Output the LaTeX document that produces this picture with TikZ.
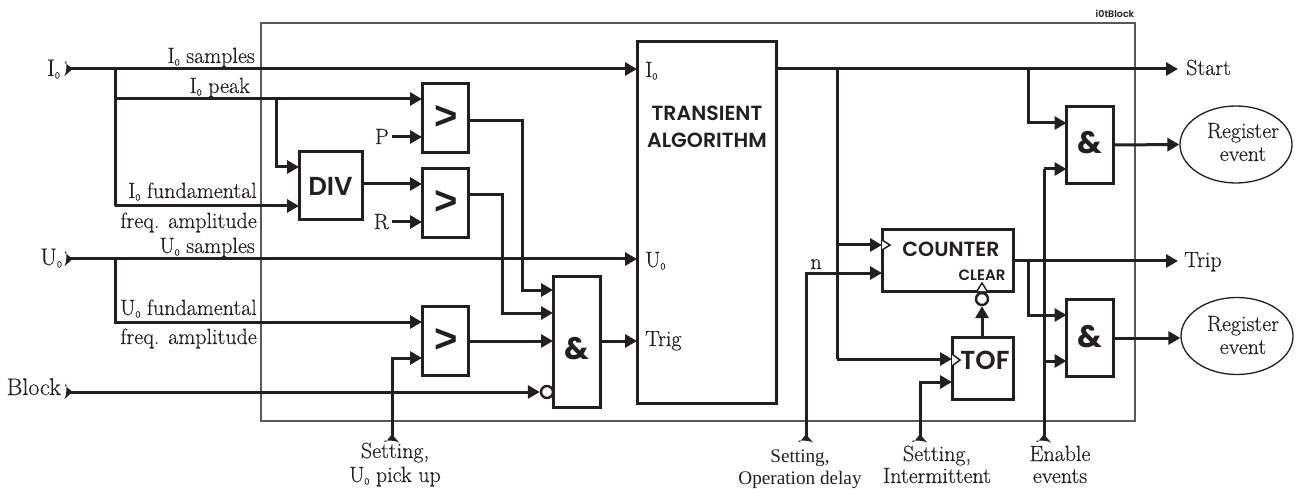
\documentclass[tikz,border=0pt]{standalone}
\usepackage{fontspec}
\usetikzlibrary{arrows.meta,shapes.geometric}
\newfontfamily\blockfont{Poppins}[BoldFont={Poppins SemiBold}]
\newfontfamily\heavyfont{Poppins Bold}
\newfontfamily\gtfont{Liberation Sans}
\newfontfamily\timesfont{Liberation Serif}
\newfontfamily\labfont{Latin Modern Roman}[RawFeature={embolden=0.35}]
\newcommand{\zs}{\raisebox{-2.5pt}{\fontsize{9.5}{9.5}\selectfont 0}}
\definecolor{ink}{HTML}{231F20}
\tikzset{
  x=1pt,y=-1pt,
  wire/.style={draw=ink,line width=3pt,miter limit=10},
  arr/.style={wire,-{Triangle[length=12pt,width=13pt]}},
  blk/.style={draw=ink,line width=3pt,fill=white,inner sep=0pt,outer sep=0pt,minimum width=#1},
  frame/.style={draw=ink!75,line width=1.5pt},
  lab/.style={inner sep=0pt,text=ink,font=\labfont\fontsize{22}{25}\selectfont},
  labr/.style={lab,anchor=base east},
  labl/.style={lab,anchor=base west},
  labc/.style={lab,anchor=base},
  labin/.style={labr,font=\labfont\fontsize{24}{27}\selectfont},
  labt/.style={inner sep=0pt,anchor=base,text=ink,font=\timesfont\fontsize{19.2}{22}\selectfont},
  big/.style={inner sep=0pt,text=ink,font=\blockfont\bfseries\fontsize{#1}{#1}\selectfont},
  sym/.style={inner sep=0pt,text=ink,font=\heavyfont\fontsize{#1}{#1}\selectfont},
  gtsym/.style={inner sep=0pt,text=ink,font=\gtfont\bfseries\fontsize{40}{40}\selectfont},
  term/.style={fill=ink,draw=none},
  bub/.style={circle,draw=ink,line width=2.4pt,fill=white,inner sep=0pt,minimum size=#1},
  clk/.style={draw=ink,line width=1.5pt,fill=white},
  evt/.style={draw=ink,line width=1.3pt,ellipse,minimum width=112pt,minimum height=77pt,inner sep=0pt}
}
\newcommand{\termr}[1]{\fill[term] (#1) ++(-5,-6) .. controls +(3,2) and +(6,4) .. ++(7,6) .. controls +(-1,2) and +(-4,4) .. ++(-7,6) .. controls +(2,-4) and +(2,-8) .. cycle;}
\newcommand{\termu}[1]{\fill[term] (#1) ++(-6,5) .. controls +(2,-3) and +(4,-6) .. ++(6,-7) .. controls +(2,1) and +(4,4) .. ++(6,7) .. controls +(-4,-2) and +(-8,-2) .. cycle;}
\begin{document}
\begin{tikzpicture}
\useasboundingbox (0,0) rectangle (1296,489);
% frame
\node[inner sep=0pt,outer sep=0pt,minimum width=874pt,minimum height=398pt,frame] (frm) at (698,222) {};
\node[big=9.5,anchor=base] (ttl) at (1115,18) {i0tBlock};
% blocks
\node[blk=139pt,minimum height=361pt] (tr) at (706.5,222.5) {};
\node[blk=63pt,minimum height=68pt] (div) at (330.5,186) {};
\node[blk=46pt,minimum height=69pt] (gt1) at (445,118.5) {};
\node[blk=46pt,minimum height=69pt] (gt2) at (445,203.5) {};
\node[blk=46pt,minimum height=69pt] (gt3) at (445,341) {};
\node[blk=47pt,minimum height=131pt] (and1) at (576.5,341.5) {};
\node[blk=131pt,minimum height=61pt] (cnt) at (947.5,260.5) {};
\node[blk=61pt,minimum height=62pt] (tof) at (982.5,368) {};
\node[blk=47pt,minimum height=77pt] (and2) at (1090,145.5) {};
\node[blk=47pt,minimum height=77pt] (and3) at (1090,337.5) {};
\node[evt] (ev1) at (1236,144.5) {};
\node[evt] (ev2) at (1237,336) {};
% free ends and junctions
\coordinate (i0) at (70,69); \coordinate (u0) at (70,259); \coordinate (bl) at (70,392);
\coordinate (ji) at (115,69); \coordinate (jp) at (115,99); \coordinate (jf) at (115,206);
\coordinate (jd) at (276,99); \coordinate (ju) at (115,259);
\coordinate (sU) at (392,437); \coordinate (sO) at (806,437); \coordinate (sI) at (920,437); \coordinate (sE) at (1044,437);
\coordinate (pin) at (392,137); \coordinate (rin) at (392,222);
\coordinate (start) at (1178,69); \coordinate (trip) at (1178,261);
\coordinate (jc) at (837,69); \coordinate (js) at (1028,69); \coordinate (jt) at (1028,261); \coordinate (je) at (1044,361);
% inputs
\draw[arr] (i0) -- (tr.west |- i0);
\draw[wire] (ji) -- (jf);
\draw[arr] (jp) -- (gt1.west |- jp);
\draw[arr] (jd) |- (div.west |- 0,167);
\draw[arr] (jf) -- (div.west |- jf);
\draw[arr] (pin) -- (gt1.west |- pin);
\draw[arr] (rin) -- (gt2.west |- rin);
\draw[arr] (div.east |- 0,184) -- (gt2.west |- 0,184);
\draw[arr] (u0) -- (tr.west |- u0);
\draw[arr] (ju) |- (gt3.west |- 0,322);
\draw[arr] (sU) |- (gt3.west |- 0,358);
\draw[arr] (gt1.east |- 0,121) -| (522,290) -- (and1.west |- 0,290);
\draw[arr] (gt2.east |- 0,195) -| (502,313) -- (and1.west |- 0,313);
\draw[arr] (gt3.east |- 0,341) -- (and1.west |- 0,341);
\draw[arr] (and1.east |- 0,341) -- (tr.west |- 0,341);
\node[bub=12pt,draw=ink] (nb) at (547,392) {};
\draw[arr] (bl) -- (nb.west);
% outputs
\draw[arr] (tr.east |- start) -- (start);
\draw[wire] (jc) -- (837,359);
\draw[arr] (837,245) -- (cnt.west |- 0,245);
\draw[arr] (sO) |- (cnt.west |- 0,273);
\draw[arr] (837,359) -- (tof.west |- 0,359);
\draw[arr] (sI) |- (tof.west |- 0,382);
\draw[arr] (cnt.east |- trip) -- (trip);
\draw[arr] (js) |- (and2.west |- 0,123);
\draw[arr] (jt) |- (and3.west |- 0,315);
\draw[wire] (sE) -- (1044,169);
\draw[arr] (1044,169) -- (and2.west |- 0,169);
\draw[arr] (je) -- (and3.west |- je);
\draw[arr] (and2.east |- 0,145) -- (ev1.west);
\draw[arr] (and3.east |- 0,338) -- (ev2.west |- 0,338);
% clear bubble and clocks
\node[bub=12pt] (nc) at (982,299) {};
\draw[arr] (tof.north -| nc) -- (nc.south);
\draw[clk] (cnt.south -| nc) ++(-5,0) -- ++(5,-8) -- ++(5,8);
\draw[clk] (cnt.west |- 0,240) -- (890,245) -- (cnt.west |- 0,250);
\draw[clk] (tof.west |- 0,354) -- (960,360) -- (tof.west |- 0,366);
% terminals
\termr{i0}\termr{u0}\termr{bl}
\termu{sU}\termu{sO}\termu{sI}\termu{sE}
% labels
\node[labr] (l1) at (255,63) {I\zs\ samples};
\node[labr] (l2) at (250,93) {I\zs\ peak};
\node[labr] (l3) at (257,198) {I\zs\ fundamental};
\node[labr] (l4) at (257,228) {freq. amplitude};
\node[labr] (l5) at (255,253) {U\zs\ samples};
\node[labr] (l6) at (257,315) {U\zs\ fundamental};
\node[labr] (l7) at (257,344) {freq. amplitude};
\node[labin] (l8) at (60,76) {I\zs};
\node[labin] (l9) at (62,265) {U\zs};
\node[labin] (l10) at (61,395) {Block};
\node[labr] (l11) at (389,144) {P};
\node[labr] (l12) at (389,229) {R};
\node[labl] (l13) at (645,77) {I\zs};
\node[labl] (l14) at (645,267) {U\zs};
\node[labl] (l15) at (645,346) {Trig};
\node[labl] (l16) at (1186,75) {Start};
\node[labl] (l17) at (1184,267) {Trip};
\node[labc] (l18) at (816,269) {n};
\node[labc] (l19) at (395,458) {Setting,};
\node[labc] (l20) at (395,482) {U\zs\ pick up};
\node[labt] (l21) at (800,462) {Setting,};
\node[labt] (l22) at (800,484) {Operation delay};
\node[labc] (l23) at (937,461) {Setting,};
\node[labc] (l24) at (937,483) {Intermittent};
\node[labc] (l25) at (1060,461) {Enable};
\node[labc] (l26) at (1060,483) {events};
\node[labc] (e1) at (1243,138) {Register};
\node[labc] (e2) at (1243,161) {event};
\node[labc] (e3) at (1243,331) {Register};
\node[labc] (e4) at (1243,354) {event};
% block texts
\node[big=20.5,anchor=base] (t1) at (707,121) {TRANSIENT};
\node[big=20.5,anchor=base] (t1b) at (707,148) {ALGORITHM};
\node[big=26] (t2) at (div) {DIV};
\node[gtsym] (g1) at (446.5,117.5) {>};
\node[gtsym] (g2) at (446.5,202.5) {>};
\node[gtsym] (g3) at (446.5,340) {>};
\node[sym=31] (a1) at (576.5,349) {\&};
\node[sym=31] (a2) at (1090,143) {\&};
\node[sym=31] (a3) at (1090,337) {\&};
\node[big=20.5] (c1) at (951,249) {COUNTER};
\node[big=15] (c2) at (982,275) {CLEAR};
\node[big=26] (c3) at (985,360) {TOF};
\end{tikzpicture}
\end{document}
